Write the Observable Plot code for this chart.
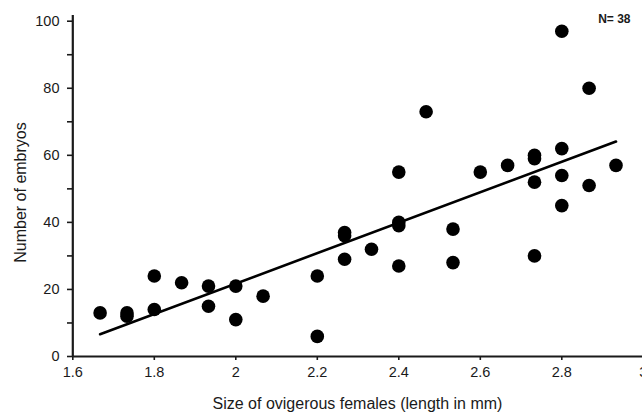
<!DOCTYPE html>
<html>
<head>
<meta charset="utf-8">
<script src="https://cdn.jsdelivr.net/npm/d3@7"></script>
<script src="https://cdn.jsdelivr.net/npm/@observablehq/plot@0.6"></script>
<style>
  html, body { margin: 0; padding: 0; background: white; }
  #chart svg { font-family: "Liberation Sans", Arial, sans-serif; }
</style>
</head>
<body>
<div id="chart"></div>
<script>
// Size of ovigerous females (length in mm)
const sizes = [
  1.667, 1.733, 1.733, 1.8, 1.8, 1.867, 1.933, 1.933, 2.0, 2.0,
  2.067, 2.2, 2.2, 2.267, 2.267, 2.267, 2.333, 2.4, 2.4, 2.4,
  2.4, 2.467, 2.533, 2.533, 2.6, 2.667, 2.733, 2.733, 2.733, 2.733,
  2.8, 2.8, 2.8, 2.8, 2.867, 2.867, 2.933
];
// Number of embryos
const embryos = [
  13, 13, 12, 24, 14, 22, 21, 15, 21, 11,
  18, 24, 6, 37, 36, 29, 32, 55, 40, 39,
  27, 73, 38, 28, 55, 57, 60, 59, 52, 30,
  97, 62, 54, 45, 80, 51, 57
];
const xTicks = [1.6, 1.8, 2.0, 2.2, 2.4, 2.6, 2.8, 3.0];
const yTicks = [0, 20, 40, 60, 80, 100];
const yMinorTicks = [10, 30, 50, 70, 90];

const data = sizes.map((s, i) => ({size: s, embryos: embryos[i]}));
const ink = "#1a1a1a";

const chart = Plot.plot({
  width: 642,
  height: 413,
  marginLeft: 72,
  marginRight: 0,
  marginTop: 20,
  marginBottom: 57,
  x: {domain: [1.6, 3.0], range: [72.3, 642.8]},
  y: {domain: [0, 100], range: [356, 20.7]},
  style: {fontFamily: "Liberation Sans, Arial, sans-serif", fontSize: "14px", color: ink, background: "white"},
  marks: [
    Plot.axisX({ticks: xTicks, tickFormat: d => String(+d.toFixed(1)), tickSize: 4, tickPadding: 6, label: null, fontSize: 14.5, stroke: ink, strokeWidth: 1.6}),
    Plot.axisY({ticks: yTicks, tickFormat: d => String(d), tickSize: 5, tickPadding: 8, label: null, fontSize: 14.5, stroke: ink, strokeWidth: 1.6}),
    Plot.axisY({ticks: yMinorTicks, tickFormat: () => "", tickSize: 5, label: null, stroke: ink, strokeWidth: 1.6}),
    Plot.ruleX([1.6], {y1: 0, y2: 101.7, stroke: ink, strokeWidth: 2.2}),
    Plot.ruleY([0], {x1: 1.6, x2: 3.0, stroke: ink, strokeWidth: 2.2}),
    Plot.dot(data, {x: "size", y: "embryos", r: 6.8, fill: "black", stroke: "none"}),
    Plot.linearRegressionY(data, {x: "size", y: "embryos", ci: 0, stroke: "black", strokeWidth: 2.6}),
    Plot.text(["Number of embryos"], {frameAnchor: "left", textAnchor: "middle", lineAnchor: "middle", dx: -52, dy: 4, rotate: -90, fontSize: 16, fill: ink}),
    Plot.text(["Size of ovigerous females (length in mm)"], {frameAnchor: "bottom", textAnchor: "middle", lineAnchor: "middle", dy: 47, fontSize: 16, fill: ink}),
    Plot.text(["N= 38"], {frameAnchor: "top-right", textAnchor: "end", lineAnchor: "middle", dx: -12, dy: -1, fontSize: 12, fontWeight: "bold", fill: ink})
  ]
});
document.getElementById("chart").appendChild(chart);
</script>
</body>
</html>
